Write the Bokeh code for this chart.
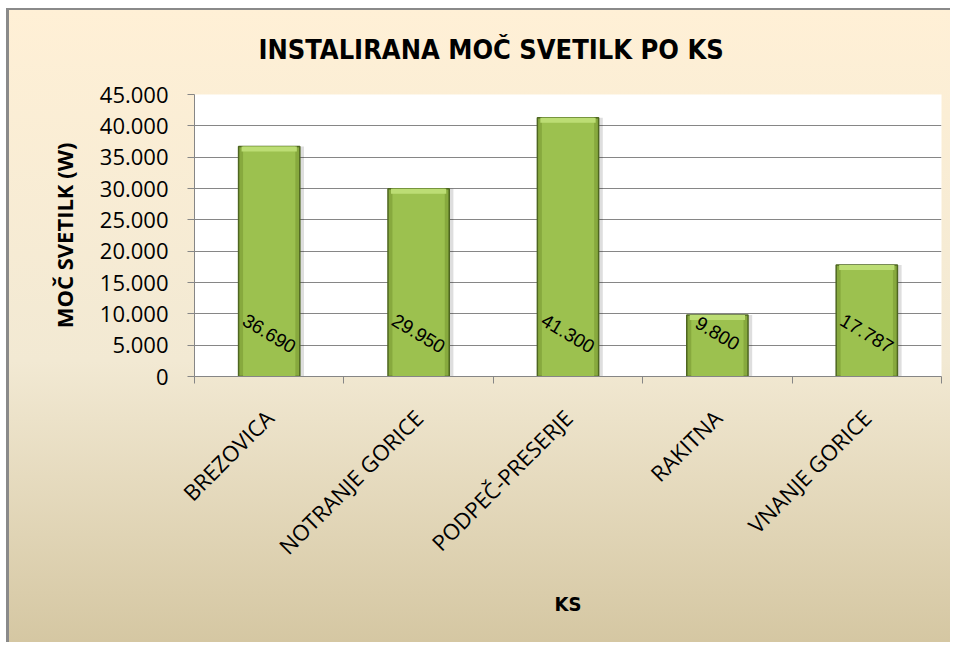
import math
from bokeh.plotting import figure
from bokeh.models import (Range1d, FixedTicker, InlineStyleSheet, ColumnDataSource)
from bokeh.core.properties import value
from bokeh.embed import file_html
from bokeh.resources import INLINE

# ---- data ----
categories = ["BREZOVICA", "NOTRANJE GORICE", "PODPEČ-PRESERJE", "RAKITNA", "VNANJE GORICE"]
power_w = [36690, 29950, 41300, 9800, 17787]
y_ticks = [0, 5000, 10000, 15000, 20000, 25000, 30000, 35000, 40000, 45000]
title_text = "INSTALIRANA MOČ SVETILK PO KS"
y_label = "MOČ SVETILK (W)"
x_label = "KS"


def fmt(v):
    return f"{v:,}".replace(",", ".")


xs = [i + 0.5 for i in range(len(categories))]
src = ColumnDataSource(dict(
    x=xs,
    xs_shadow=[x + 0.018 for x in xs],
    top=power_w,
    hl_bottom=[v - 800 for v in power_w],
    zero=[0] * len(power_w),
    lbl=[fmt(v) for v in power_w],
))

p = figure(width=950, height=642, output_backend="svg", toolbar_location=None,
           x_range=Range1d(0, len(categories)), y_range=Range1d(y_ticks[0], y_ticks[-1]),
           min_border_left=194, min_border_right=9, min_border_top=94, min_border_bottom=266)

css = (":host { background:"
       " linear-gradient(#8a8a8a,#8a8a8a) 6px 8px / 3px 100% no-repeat,"
       " linear-gradient(#8a8a8a,#8a8a8a) 6px 8px / 100% 2px no-repeat,"
       " linear-gradient(180deg, #FFF0D6 0%, #F2E9D3 55%, #D4C6A1 100%) 6px 8px / 100% 100% no-repeat,"
       " #ffffff; }")
p.stylesheets = [InlineStyleSheet(css=css)]
p.border_fill_color = None
p.background_fill_color = "white"
p.outline_line_color = None

# bars
p.vbar(x="xs_shadow", top="top", bottom="zero", width=0.43, source=src,
       fill_color="#000000", fill_alpha=0.13, line_color=None)
p.vbar(x="x", top="top", bottom="zero", width=0.41, source=src,
       fill_color="#87A93E", line_color="#4E6620", line_width=1.5)
p.vbar(x="x", top="top", bottom="zero", width=0.35, source=src,
       fill_color="#9CC14F", line_color=None)
p.vbar(x="x", top="top", bottom="hl_bottom", width=0.37, source=src,
       fill_color="#BCDD74", line_color=None)

# data labels
p.text(x="x", y="zero", text="lbl", source=src, angle=-0.54,
       text_align="center", text_baseline="middle", y_offset=-43,
       text_font=value("Liberation Sans"), text_font_size="19px", text_color="black")

# title
p.title.text = title_text
p.title.align = "left"
p.title.offset = 64
p.title.text_font = "DejaVu Sans Condensed"
p.title.text_font_style = "bold"
p.title.text_font_size = "27px"
p.title.text_color = "black"
p.title.standoff = 60

# y axis
yax = p.yaxis[0]
yax.ticker = FixedTicker(ticks=y_ticks)
yax.major_label_overrides = {t: fmt(t) for t in y_ticks}
yax.major_label_text_font = "Open Sans"
yax.major_label_text_font_size = "22px"
yax.major_label_text_color = "black"
yax.major_tick_out = 7
yax.major_tick_in = 0
yax.minor_tick_line_color = None
yax.axis_line_color = "#868686"
yax.major_tick_line_color = "#868686"
yax.major_label_standoff = 19
yax.axis_label = y_label
yax.axis_label_text_font = "Open Sans"
yax.axis_label_text_font_style = "bold"
yax.axis_label_text_font_size = "22px"
yax.axis_label_text_color = "black"
yax.axis_label_standoff = 18

# x axis: labels at centres, ticks between categories
xax = p.xaxis[0]
xax.ticker = FixedTicker(ticks=xs, minor_ticks=list(range(len(categories) + 1)))
xax.major_label_overrides = {x: c for x, c in zip(xs, categories)}
xax.major_label_orientation = math.pi / 4
xax.major_label_text_font = "Open Sans"
xax.major_label_text_font_size = "22px"
xax.major_label_text_color = "black"
xax.major_tick_line_color = None
xax.major_tick_out = 0
xax.minor_tick_out = 7
xax.minor_tick_in = 0
xax.minor_tick_line_color = "#868686"
xax.axis_line_color = "#868686"
xax.major_label_standoff = 30
xax.axis_label = x_label
xax.axis_label_text_font = "DejaVu Sans Condensed"
xax.axis_label_text_font_style = "bold"
xax.axis_label_text_font_size = "20px"
xax.axis_label_text_color = "black"
xax.axis_label_standoff = 18

p.xgrid.grid_line_color = None
p.ygrid.grid_line_color = "#868686"
p.ygrid.grid_line_width = 1

open("out.html", "w").write(file_html(p, INLINE))
